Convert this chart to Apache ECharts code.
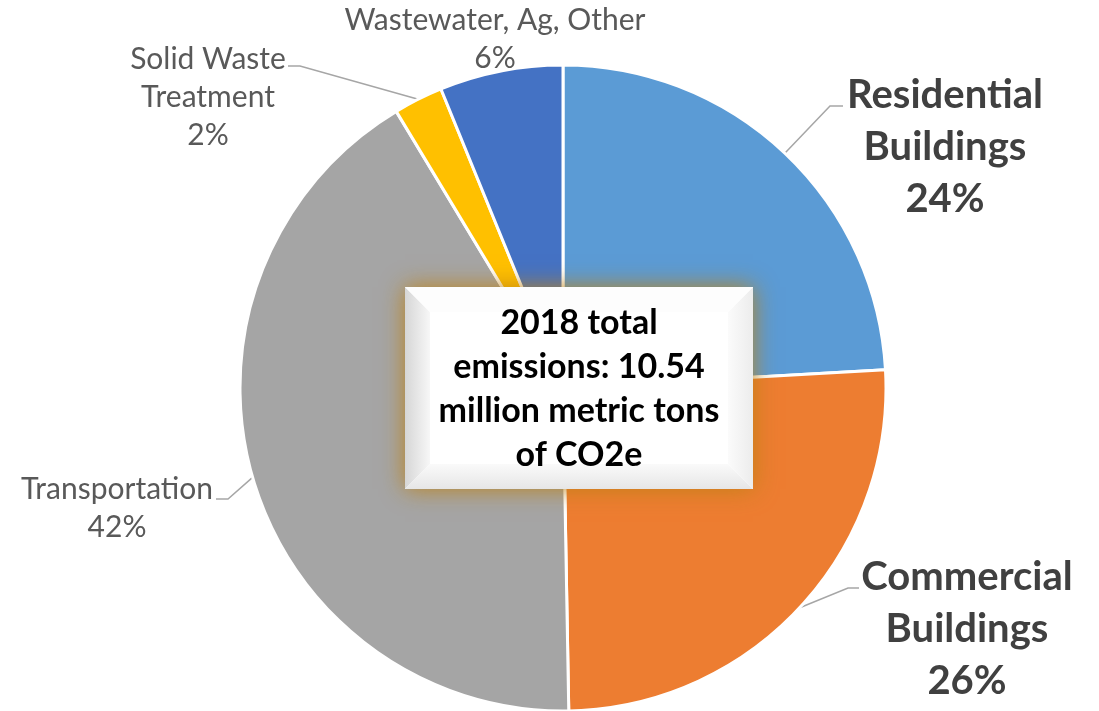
<!DOCTYPE html>
<html>
<head>
<meta charset="utf-8">
<script src="https://cdn.jsdelivr.net/npm/echarts@6/dist/echarts.min.js"></script>
<style>
html,body{margin:0;padding:0;background:#fff;}
#chart{width:1099px;height:711px;}
</style>
</head>
<body>
<div id="chart"></div>
<script>
// ---- data ----
const categories = ['Residential\nBuildings', 'Commercial\nBuildings', 'Transportation', 'Solid Waste\nTreatment', 'Wastewater, Ag, Other'];
const values = [2.54, 2.70, 4.39, 0.26, 0.65]; // million metric tons CO2e
const boldLabels = [true, true, false, false, false];
const year = 2018;

// ---- styling / layout (not data) ----
const colors = ['#5B9BD5', '#ED7D31', '#A5A5A5', '#FFC000', '#4472C4'];
const labelPlacement = [
  { x: 945, y: 147, elbow: [830, 106], end: [843, 106] },
  { x: 967, y: 629, elbow: [848, 588], end: [859, 588] },
  { x: 117, y: 508, elbow: [228, 499], end: [216, 499] },
  { x: 208, y: 97, elbow: [300, 66], end: [288, 66] },
  { x: 495, y: 39, elbow: null, end: null }
];

const total = values.reduce((a, b) => a + b, 0);
const FONT = 'Lato, "Open Sans", sans-serif';

const chart = echarts.init(document.getElementById('chart'));

const seriesData = categories.map((name, i) => ({
  name: name,
  value: values[i],
  itemStyle: { color: colors[i] },
  label: boldLabels[i] ? {
    fontSize: 40, fontWeight: 'bold', color: '#404040', lineHeight: 52
  } : {
    fontSize: 30, fontWeight: 'normal', color: '#595959', lineHeight: 38
  },
  labelLine: { show: !!labelPlacement[i].elbow }
}));

const Z = 100;
const option = {
  backgroundColor: '#ffffff',
  animation: false,
  series: [{
    type: 'pie',
    center: [563, 388],
    radius: [0, 323],
    startAngle: 90,
    clockwise: true,
    avoidLabelOverlap: false,
    data: seriesData,
    itemStyle: { borderColor: '#ffffff', borderWidth: 3 },
    label: {
      show: true,
      position: 'outside',
      fontFamily: FONT,
      align: 'center',
      formatter: p => p.name + '\n' + Math.round(p.percent) + '%'
    },
    labelLine: {
      show: true,
      length: 30,
      length2: 12,
      lineStyle: { color: '#A6A6A6', width: 1.5 }
    },
    labelLayout: function (params) {
      const cfg = labelPlacement[params.dataIndex];
      const res = { x: cfg.x, y: cfg.y, align: 'center', verticalAlign: 'middle' };
      if (cfg.elbow && params.labelLinePoints) {
        res.labelLinePoints = [params.labelLinePoints[0], cfg.elbow, cfg.end];
      }
      return res;
    }
  }],
  graphic: [
    {
      type: 'rect', z: Z,
      shape: { x: 405, y: 287, width: 348, height: 202 },
      style: {
        fill: '#ffffff',
        shadowBlur: 22,
        shadowColor: 'rgba(190,130,20,0.95)'
      }
    },
    { type: 'polygon', z: Z + 1, shape: { points: [[405, 287], [430, 312], [430, 464], [405, 489]] },
      style: { fill: new echarts.graphic.LinearGradient(0, 0, 1, 0, [{ offset: 0, color: '#d6d6d6' }, { offset: 1, color: '#f7f7f7' }]) } },
    { type: 'polygon', z: Z + 1, shape: { points: [[405, 489], [430, 464], [728, 464], [753, 489]] },
      style: { fill: new echarts.graphic.LinearGradient(0, 1, 0, 0, [{ offset: 0, color: '#e6e6e6' }, { offset: 1, color: '#fafafa' }]) } },
    { type: 'polygon', z: Z + 1, shape: { points: [[753, 287], [728, 312], [728, 464], [753, 489]] },
      style: { fill: new echarts.graphic.LinearGradient(1, 0, 0, 0, [{ offset: 0, color: '#ececec' }, { offset: 1, color: '#fbfbfb' }]) } },
    { type: 'polygon', z: Z + 1, shape: { points: [[405, 287], [430, 312], [728, 312], [753, 287]] },
      style: { fill: '#fdfdfd' } },
    {
      type: 'text', z: Z + 2,
      x: 579, y: 389,
      style: {
        text: year + ' total\nemissions: ' + total.toFixed(2) + '\nmillion metric tons\nof CO2e',
        fontFamily: FONT,
        fontSize: 34,
        fontWeight: 'bold',
        lineHeight: 44,
        fill: '#000000',
        align: 'center',
        verticalAlign: 'middle'
      }
    }
  ]
};
chart.setOption(option);
</script>
</body>
</html>
